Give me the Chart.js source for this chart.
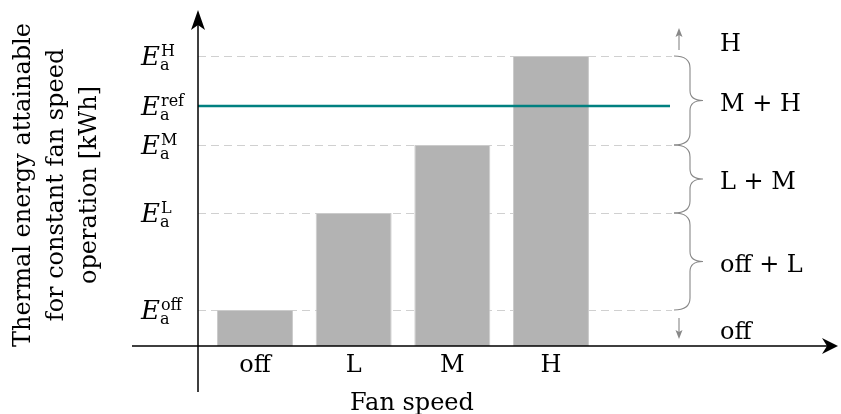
<!DOCTYPE html>
<html>
<head>
<meta charset="utf-8">
<script src="https://cdn.jsdelivr.net/npm/chart.js@4.4.1/dist/chart.umd.min.js"></script>
<style>
  html, body { margin: 0; padding: 0; background: #fff; }
  canvas { display: block; }
</style>
</head>
<body>
<canvas id="grafica" width="841" height="414"></canvas>
<script>
// data
const speeds = ['off', 'L', 'M', 'H'];
const energy = [36, 133, 201, 290];     // E_a per fan speed (arbitrary units)
const energyRef = 240;                  // E_a^ref
const rangeLabels = ['off', 'off + L', 'L + M', 'M + H', 'H'];
const yTitle = ['Thermal energy attainable', 'for constant fan speed', 'operation [kWh]'];
const xTitle = 'Fan speed';

const SERIF = '"DejaVu Serif", serif';
const AXIS_X = 198;       // pixel where the vertical axis sits
const GUIDE_END = 672;    // end of dashed guides
const REF_END = 670;
const BRACE_X = 674;

function arrowHead(ctx, tx, ty, dx, dy, len, half, notch) {
  // latex-ish filled arrow, (dx,dy) unit direction
  const px = -dy, py = dx;
  const bx = tx - dx * len, by = ty - dy * len;
  ctx.beginPath();
  ctx.moveTo(tx, ty);
  ctx.lineTo(bx + px * half, by + py * half);
  ctx.lineTo(tx - dx * (len - notch), ty - dy * (len - notch));
  ctx.lineTo(bx - px * half, by - py * half);
  ctx.closePath();
  ctx.fill();
}

function brace(ctx, yTop, yBot) {
  const mid = (yTop + yBot) / 2;
  const x0 = BRACE_X, x1 = x0 + 16, x2 = x0 + 29;
  ctx.beginPath();
  ctx.moveTo(x0, yTop);
  ctx.quadraticCurveTo(x1, yTop, x1, yTop + 12);
  ctx.lineTo(x1, mid - 10);
  ctx.quadraticCurveTo(x1, mid, x2, mid);
  ctx.quadraticCurveTo(x1, mid, x1, mid + 10);
  ctx.lineTo(x1, yBot - 12);
  ctx.quadraticCurveTo(x1, yBot, x0, yBot);
  ctx.stroke();
}

function eLabel(ctx, sup, y) {
  ctx.textBaseline = 'alphabetic';
  ctx.textAlign = 'left';
  ctx.fillStyle = '#000';
  ctx.font = 'italic 26px ' + SERIF;
  ctx.fillText('E', 141, y + 9);
  const w = ctx.measureText('E').width;
  ctx.font = '16px ' + SERIF;
  ctx.fillText(sup, 141 + w + 1, y);
  ctx.fillText('a', 141 + w, y + 14);
}

const decor = {
  id: 'decor',
  beforeDatasetsDraw(chart) {
    const ctx = chart.ctx, y = chart.scales.y;
    ctx.save();
    ctx.strokeStyle = '#d0d0d0';
    ctx.lineWidth = 1;
    ctx.setLineDash([8, 5]);
    energy.forEach(v => {
      const py = Math.round(y.getPixelForValue(v)) + 0.5;
      ctx.beginPath();
      ctx.moveTo(AXIS_X, py);
      ctx.lineTo(GUIDE_END, py);
      ctx.stroke();
    });
    ctx.restore();
  },
  afterDatasetsDraw(chart) {
    const ctx = chart.ctx, x = chart.scales.x, y = chart.scales.y;
    const area = chart.chartArea;
    const y0 = y.getPixelForValue(0);
    ctx.save();

    // reference line
    const yr = y.getPixelForValue(energyRef);
    ctx.strokeStyle = '#008080';
    ctx.lineWidth = 2.5;
    ctx.beginPath();
    ctx.moveTo(AXIS_X, yr);
    ctx.lineTo(REF_END, yr);
    ctx.stroke();

    // axes
    ctx.strokeStyle = '#000';
    ctx.fillStyle = '#000';
    ctx.lineWidth = 1.5;
    ctx.beginPath();
    ctx.moveTo(area.left, y0);
    ctx.lineTo(area.right - 8, y0);
    ctx.moveTo(AXIS_X, area.bottom);
    ctx.lineTo(AXIS_X, area.top + 8);
    ctx.stroke();
    arrowHead(ctx, area.right, y0, 1, 0, 16, 8, 5);
    arrowHead(ctx, AXIS_X, area.top, 0, -1, 20, 7, 5);

    // x tick labels
    ctx.font = '24px ' + SERIF;
    ctx.textAlign = 'center';
    ctx.textBaseline = 'alphabetic';
    speeds.forEach((s, i) => ctx.fillText(s, x.getPixelForValue(i), y0 + 26));
    ctx.fillText(xTitle, 412, 410);

    // y tick labels
    speeds.forEach((s, i) => eLabel(ctx, s, y.getPixelForValue(energy[i])));
    eLabel(ctx, 'ref', yr);

    // y title
    ctx.save();
    ctx.translate(0, 185);
    ctx.rotate(-Math.PI / 2);
    ctx.font = '24px ' + SERIF;
    ctx.textAlign = 'center';
    ctx.textBaseline = 'middle';
    yTitle.forEach((t, i) => ctx.fillText(t, 0, 24 + i * 33));
    ctx.restore();

    // braces + range labels
    ctx.strokeStyle = '#888';
    ctx.fillStyle = '#888';
    ctx.lineWidth = 1.1;
    const lv = energy.map(v => y.getPixelForValue(v));
    for (let i = 0; i < lv.length - 1; i++) brace(ctx, lv[i + 1], lv[i]);
    const ax = 679;
    ctx.beginPath();
    ctx.moveTo(ax, lv[3] - 6); ctx.lineTo(ax, lv[3] - 24);
    ctx.moveTo(ax, lv[0] + 8); ctx.lineTo(ax, lv[0] + 25);
    ctx.stroke();
    arrowHead(ctx, ax, lv[3] - 28, 0, -1, 9, 3.5, 2);
    arrowHead(ctx, ax, lv[0] + 29, 0, 1, 9, 3.5, 2);

    ctx.fillStyle = '#000';
    ctx.font = '24px ' + SERIF;
    ctx.textAlign = 'left';
    ctx.textBaseline = 'middle';
    const mids = [lv[0] + 19, (lv[0] + lv[1]) / 2, (lv[1] + lv[2]) / 2, (lv[2] + lv[3]) / 2, lv[3] - 15];
    rangeLabels.forEach((t, i) => ctx.fillText(t, 720, mids[i] + 4));
    ctx.restore();
  }
};

const ctxGraf = document.getElementById('grafica');
const grafico = new Chart(ctxGraf, {
  type: 'bar',
  data: {
    datasets: [{
      data: speeds.map((s, i) => ({ x: i, y: energy[i] })),
      backgroundColor: '#b3b3b3',
      borderColor: '#cbcbcb',
      borderWidth: 1,
      barPercentage: 0.77,
      categoryPercentage: 1
    }]
  },
  options: {
    responsive: false,
    animation: false,
    events: [],
    layout: { padding: { left: 132, right: 3, top: 10, bottom: 22 } },
    plugins: { legend: { display: false }, tooltip: { enabled: false } },
    scales: {
      x: {
        type: 'linear', offset: false, min: -1.2466, max: 5.909, display: false,
        afterBuildTicks: (scale) => { scale.ticks = speeds.map((s, i) => ({ value: i })); }
      },
      y: { min: -46, max: 336, display: false }
    }
  },
  plugins: [decor]
});
</script>
</body>
</html>
